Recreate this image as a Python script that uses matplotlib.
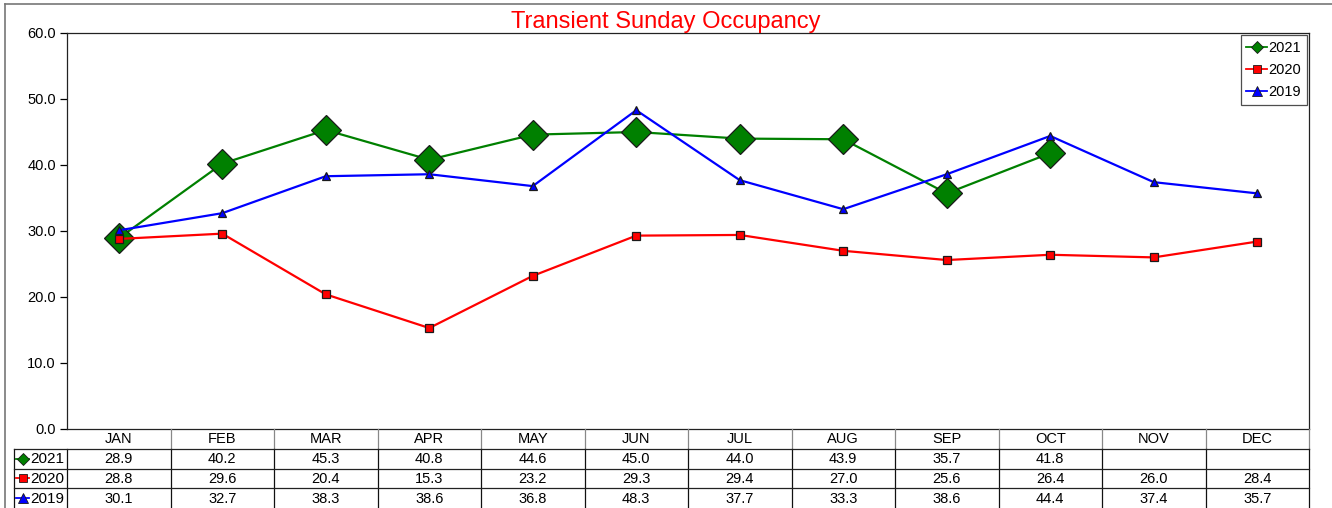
import numpy as np
import matplotlib.pyplot as plt
from matplotlib.lines import Line2D

plt.rcParams['font.family'] = ['Liberation Sans', 'DejaVu Sans']

months = ["JAN", "FEB", "MAR", "APR", "MAY", "JUN",
          "JUL", "AUG", "SEP", "OCT", "NOV", "DEC"]
occ_2021 = [28.9, 40.2, 45.3, 40.8, 44.6, 45.0, 44.0, 43.9, 35.7, 41.8, np.nan, np.nan]
occ_2020 = [28.8, 29.6, 20.4, 15.3, 23.2, 29.3, 29.4, 27.0, 25.6, 26.4, 26.0, 28.4]
occ_2019 = [30.1, 32.7, 38.3, 38.6, 36.8, 48.3, 37.7, 33.3, 38.6, 44.4, 37.4, 35.7]

# series styles: (label, values, colour, marker, size in plot, size in key)
series = [
    ("2021", occ_2021, "#008000", "D", 15, 6),
    ("2020", occ_2020, "#ff0000", "s", 5.5, 6),
    ("2019", occ_2019, "#0000ff", "^", 6, 6.5),
]
zorders = {"2021": 2, "2020": 4, "2019": 3}

W, H = 1332, 508
fig = plt.figure(figsize=(W / 100, H / 100), dpi=100)

left, right, top, bottom = 67, 1309, 33, 429
ax = fig.add_axes([left / W, 1 - bottom / H, (right - left) / W, (bottom - top) / H])
x = np.arange(12) + 0.5

for name, vals, col, mk, ms, _ in series:
    ax.plot(x, vals, color=col, lw=1.6, marker=mk, ms=ms, mfc=col,
            mec="#1a1a1a", mew=0.9, zorder=zorders[name])

ax.set_xlim(0, 12)
ax.set_ylim(0, 60)
ax.set_yticks(np.arange(0, 61, 10))
ax.set_yticklabels([f"{v:.1f}" for v in np.arange(0, 61, 10)], fontsize=10.5)
ax.set_xticks([])
ax.tick_params(axis="y", direction="out", length=5, width=0.9, pad=3)
for s in ax.spines.values():
    s.set_linewidth(0.9)
    s.set_color("#222222")

# title is centred on the whole chart, not the plot area
fig.text(0.5, 1 - 22 / H, "Transient Sunday Occupancy", color="#ff0000",
         fontsize=17, ha="center", va="center")

handles = [Line2D([], [], color=col, lw=1.3, marker=mk, ms=kms, mfc=col,
                  mec="#1a1a1a", mew=0.6)
           for _, _, col, mk, _, kms in series]
leg = ax.legend(handles, [s[0] for s in series], loc="upper right",
                fontsize=10.5, frameon=True, fancybox=False, borderaxespad=0.15,
                handlelength=1.4, handletextpad=0.1, borderpad=0.4,
                labelspacing=0.55)
leg.get_frame().set_edgecolor("#222222")
leg.get_frame().set_linewidth(0.9)

# data table under the plot area
tb = fig.add_axes([left / W, 0, (right - left) / W, (H - bottom) / H])
tb.set_xlim(0, 12)
tb.set_ylim(4, 0)
tb.axis("off")
col_px = (right - left) / 12
lab_x = (14 - left) / col_px

for i, m in enumerate(months):
    tb.text(i + 0.5, 0.52, m, ha="center", va="center", fontsize=10.5)
for r, (name, vals, col, mk, _, kms) in enumerate(series, start=1):
    for i, v in enumerate(vals):
        if not np.isnan(v):
            tb.text(i + 0.5, r + 0.52, f"{v:.1f}", ha="center", va="center",
                    fontsize=10.5)
    tb.plot([lab_x + 2 / col_px, lab_x + 15 / col_px], [r + 0.5, r + 0.5],
            color=col, lw=1.3, clip_on=False)
    tb.plot([lab_x + 8.5 / col_px], [r + 0.5], marker=mk, ms=kms, color=col,
            mec="#1a1a1a", mew=0.6, clip_on=False)
    tb.text(-3 / col_px, r + 0.54, name, ha="right", va="center", fontsize=11)

for i in range(1, 13):
    tb.plot([i, i], [0, 1], color="#888888", lw=0.9, clip_on=False)
for i in range(0, 13):
    tb.plot([i, i], [1, 4], color="#111111", lw=0.9, clip_on=False)
tb.plot([lab_x, lab_x], [1, 4], color="#111111", lw=0.9, clip_on=False)
for r in (1, 2, 3):
    tb.plot([lab_x, 12], [r, r], color="#222222", lw=0.9, clip_on=False)

# outer chart border
fig.add_artist(Line2D([5 / W, 1], [1 - 4 / H, 1 - 4 / H], color="#777777", lw=1.2))
fig.add_artist(Line2D([5 / W, 5 / W], [0, 1 - 4 / H], color="#777777", lw=1.2))

fig.savefig("out.png", dpi=100)
